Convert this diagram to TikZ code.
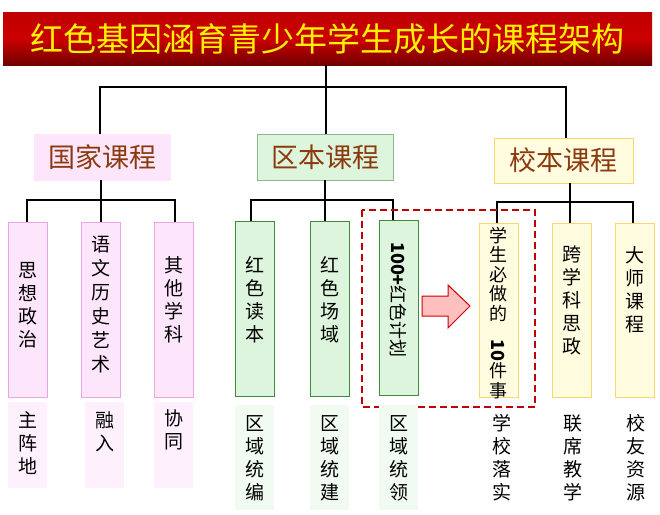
\documentclass[tikz,border=0pt]{standalone}
\usepackage{fontspec}
\setmainfont{Noto Sans CJK SC}
\definecolor{pk}{HTML}{FDE6FB}\definecolor{pkd}{HTML}{E9A6E6}
\definecolor{gr}{HTML}{DDF5DC}\definecolor{grd}{HTML}{3F8A3F}
\definecolor{yl}{HTML}{FFFCE0}\definecolor{yld}{HTML}{F5D76A}
\definecolor{brn}{HTML}{8B3A0E}
\tikzset{x=1pt,y=-1pt,
 lvl/.style={font=\fontsize{27}{30}\selectfont,text=brn,inner sep=0},
 leaf/.style={font=\fontsize{19}{23}\selectfont,align=center,inner sep=0},
 bot/.style={font=\fontsize{19}{23}\selectfont,align=center,inner sep=0},
 conn/.style={line width=2.2pt}}
\begin{document}
\begin{tikzpicture}
\useasboundingbox (0,0) rectangle (660,514);
% title
\shade[top color=red!75!black,bottom color=red!45!black,middle color=red!80!black] (3,12) rectangle (652,65);
\node[font=\fontsize{33}{35}\selectfont,text=yellow] (t) at (327,39) {红色基因涵育青少年学生成长的课程架构};
% level 2
\draw[pk,fill=pk] (34,134) rectangle (170,180); \node[lvl] (a) at (102,157) {国家课程};
\draw[grd!60,fill=gr] (257,134) rectangle (393,180); \node[lvl] (b) at (325,157) {区本课程};
\draw[yld,fill=yl] (494,138) rectangle (633,183); \node[lvl] (c) at (563,160) {校本课程};
% connectors
\draw[conn] (326,65)--(326,87);
\draw[conn] (100,134)--(100,87)--(566,87)--(566,138);
\draw[conn] (326,87)--(326,134);
\draw[conn] (101,180)--(101,200) (27,222)--(27,200)--(175,200)--(175,222) (101,200)--(101,222);
\draw[conn] (325,180)--(325,200) (251,221)--(251,200)--(393,200)--(393,220) (325,200)--(325,221);
\draw[conn] (570,183)--(570,202) (497,223)--(497,202)--(633,202)--(633,223) (570,202)--(570,223);
% leaf boxes
\foreach \x in {8,81,154}{\draw[pkd,fill=pk] (\x,222) rectangle ++(39,175);}
\foreach \x in {235,310}{\draw[grd,fill=gr] (\x,221) rectangle ++(39,175);}
\draw[grd,fill=gr] (379,220) rectangle ++(39,175);
\foreach \x in {479,552,615}{\draw[yld,fill=yl] (\x,223) rectangle ++(39,174);}
\node[leaf] (l1) at (27.5,305) {思\\想\\政\\治};
\node[leaf,font=\fontsize{19}{24}\selectfont] (l2) at (100.5,305) {语\\文\\历\\史\\艺\\术};
\node[leaf] (l3) at (173.5,300) {其\\他\\学\\科};
\node[leaf] (l4) at (254.5,300) {红\\色\\读\\本};
\node[leaf] (l5) at (329.5,300) {红\\色\\场\\域};
\node[leaf,rotate=-90,font=\fontsize{18}{20}\selectfont] (l6) at (398.5,300) {\textbf{100+}红色计划};
\node[leaf,font=\fontsize{18}{19.5}\selectfont] (l7) at (498.5,313) {学\\生\\必\\做\\的\\\rotatebox{-90}{\textbf{10}}\\件\\事};
\node[leaf] (l8) at (571.5,300) {跨\\学\\科\\思\\政};
\node[leaf] (l9) at (634.5,290) {大\\师\\课\\程};
% dashed frame and arrow
\draw[red!75!black,line width=1.3pt,dash pattern=on 7pt off 4pt] (362,210) rectangle (535,407);
\draw[red!80!black,fill=red!25,line width=1pt,line join=miter] (422,296)--(448,296)--(448,285)--(470,306)--(448,328)--(448,316)--(422,316)--cycle;
% bottom
\foreach \x in {8,85,154}{\fill[pk!60] (\x,402) rectangle ++(39,86);}
\foreach \x in {235,310,379}{\fill[gr!40] (\x,405) rectangle ++(39,105);}
\node[bot] (m1) at (27.5,443) {主\\阵\\地};
\node[bot] (m2) at (104.5,432) {融\\入};
\node[bot] (m3) at (173.5,430) {协\\同};
\node[bot] (m4) at (254.5,458) {区\\域\\统\\编};
\node[bot] (m5) at (329.5,458) {区\\域\\统\\建};
\node[bot] (m6) at (398.5,458) {区\\域\\统\\领};
\node[bot] (m7) at (502,458) {学\\校\\落\\实};
\node[bot] (m8) at (573,458) {联\\席\\教\\学};
\node[bot] (m9) at (636,458) {校\\友\\资\\源};
\end{tikzpicture}
\end{document}
